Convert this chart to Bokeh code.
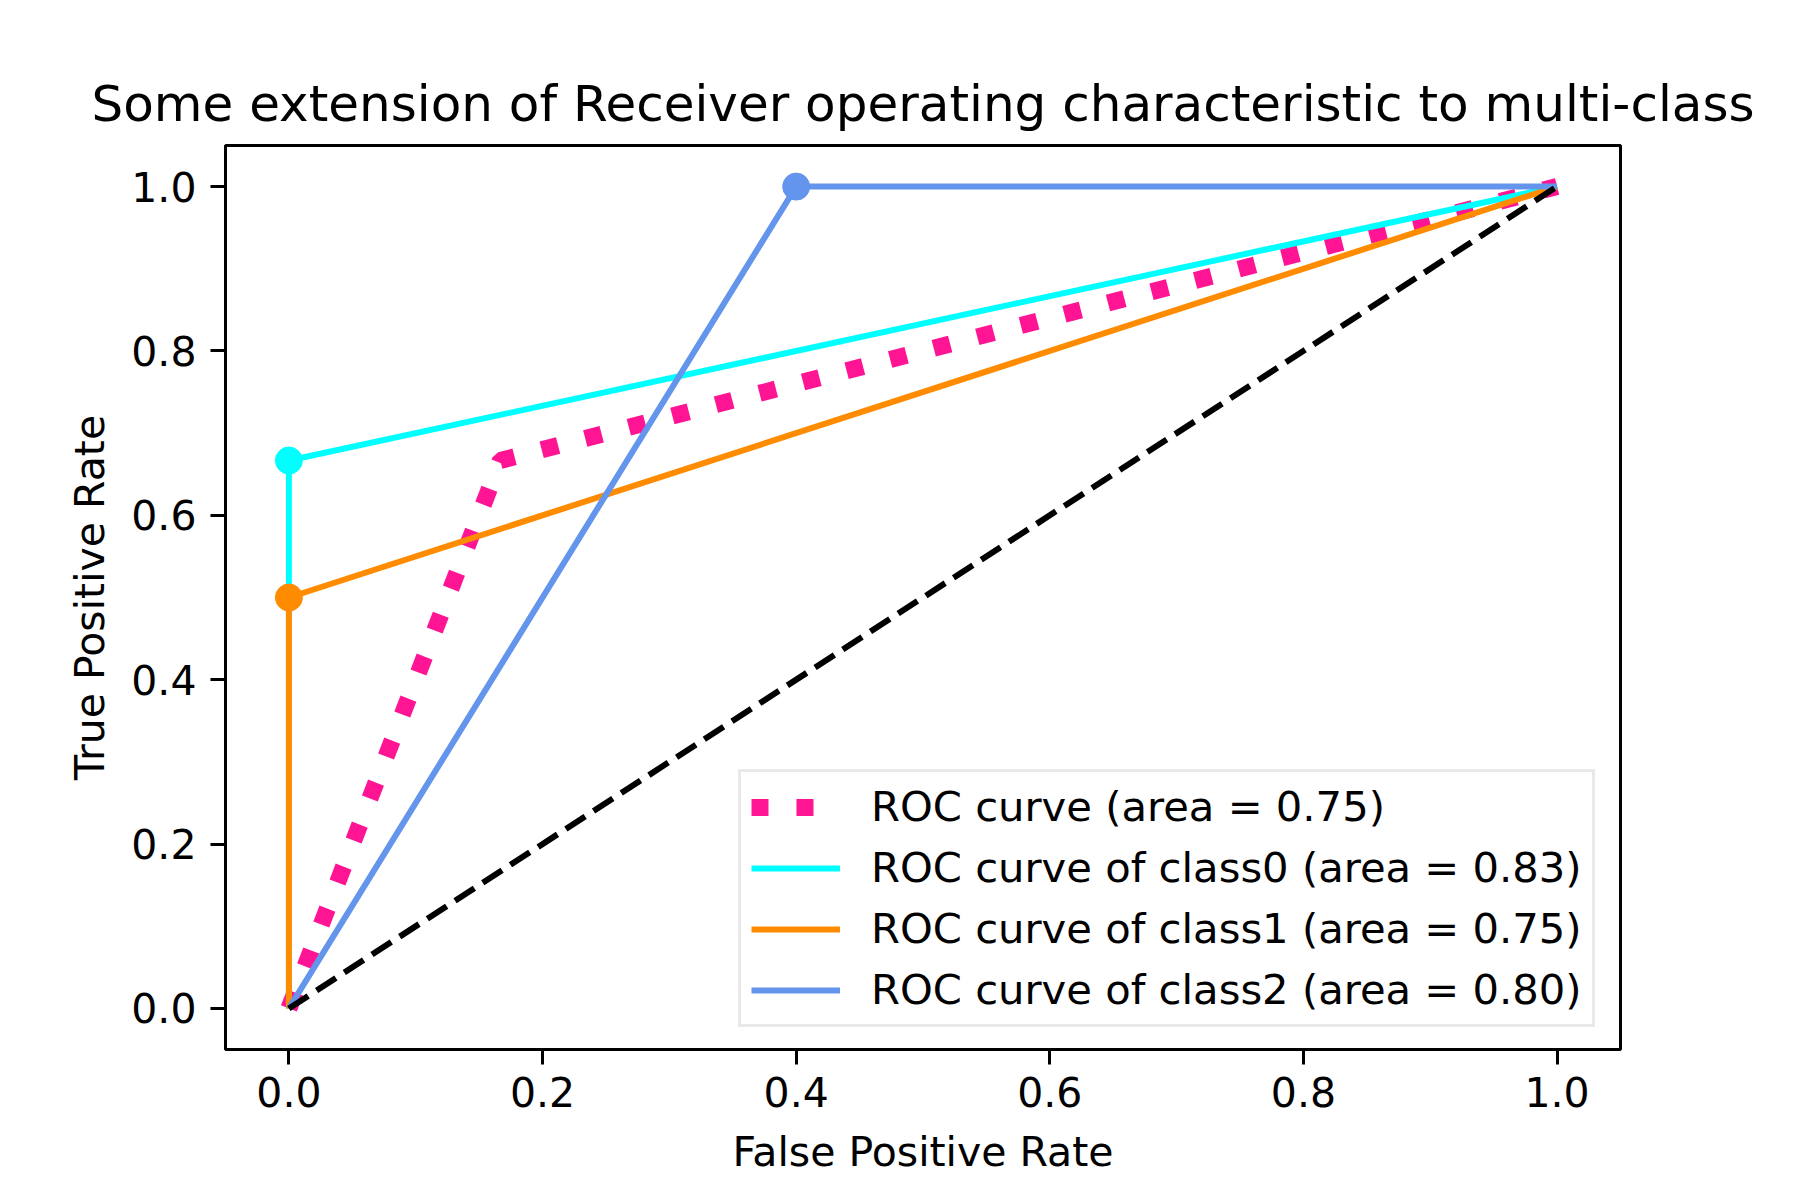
from bokeh.plotting import figure
from bokeh.models import Range1d, FixedTicker, Legend, LegendItem, Label, CustomJSTickFormatter
from bokeh.embed import file_html
from bokeh.resources import INLINE

# ---- data ----
micro_fpr = [0.0, 1/6, 1.0]
micro_tpr = [0.0, 2/3, 1.0]
c0_fpr = [0.0, 0.0, 1.0]
c0_tpr = [0.0, 2/3, 1.0]
c1_fpr = [0.0, 0.0, 1.0]
c1_tpr = [0.0, 0.5, 1.0]
c2_fpr = [0.0, 0.4, 1.0]
c2_tpr = [0.0, 1.0, 1.0]
diag = [0.0, 1.0]
ticks = [0.0, 0.2, 0.4, 0.6, 0.8, 1.0]
labels = ["ROC curve (area = 0.75)",
          "ROC curve of class0 (area = 0.83)",
          "ROC curve of class1 (area = 0.75)",
          "ROC curve of class2 (area = 0.80)"]
title = "Some extension of Receiver operating characteristic to multi-class"

FONT = "DejaVu Sans"

p = figure(width=1784, height=1184, output_backend="svg", toolbar_location=None,
           x_range=Range1d(-0.05, 1.05), y_range=Range1d(-0.05, 1.05),
           min_border_left=225, min_border_right=164, min_border_top=145, min_border_bottom=135)

p.title.text = title
p.title.align = "center"
p.title.text_font = FONT
p.title.text_font_size = "50px"
p.title.text_font_style = "normal"
p.title.text_color = "black"
p.title.standoff = 25

p.xgrid.visible = False
p.ygrid.visible = False
p.outline_line_color = "black"
p.outline_line_width = 3
p.outline_line_alpha = 1.0
p.background_fill_color = "white"
p.border_fill_color = "white"

for ax in (p.xaxis[0], p.yaxis[0]):
    ax.ticker = FixedTicker(ticks=ticks)
    ax.formatter = CustomJSTickFormatter(code="return tick.toFixed(1);")
    ax.major_tick_out = 15
    ax.major_tick_in = 0
    ax.minor_tick_out = 0
    ax.minor_tick_in = 0
    ax.major_tick_line_width = 3
    ax.major_tick_line_color = "black"
    ax.axis_line_width = 3
    ax.axis_line_color = "black"
    ax.major_label_text_font = FONT
    ax.major_label_text_font_size = "41px"
    ax.major_label_text_color = "black"
    ax.axis_label_text_font = FONT
    ax.axis_label_text_font_size = "41px"
    ax.axis_label_text_font_style = "normal"
    ax.axis_label_text_color = "black"

p.xaxis[0].major_label_standoff = 12
p.xaxis[0].axis_label_standoff = 18
p.yaxis[0].major_label_standoff = 14
p.yaxis[0].axis_label_standoff = 14

p.xaxis.axis_label = "False Positive Rate"
p.yaxis.axis_label = "True Positive Rate"

r_micro = p.line(micro_fpr, micro_tpr, line_color="#FF1493", line_width=17, line_dash="17 28")
r0 = p.line(c0_fpr, c0_tpr, line_color="#00FFFF", line_width=6)
p.scatter([c0_fpr[1]], [c0_tpr[1]], size=27, color="#00FFFF", marker="circle")
r1 = p.line(c1_fpr, c1_tpr, line_color="#FF8C00", line_width=6)
p.scatter([c1_fpr[1]], [c1_tpr[1]], size=27, color="#FF8C00", marker="circle")
r2 = p.line(c2_fpr, c2_tpr, line_color="#6495ED", line_width=6)
p.scatter([c2_fpr[1]], [c2_tpr[1]], size=27, color="#6495ED", marker="circle")
p.line(diag, diag, line_color="black", line_width=6, line_dash="23 10")

legend = Legend(items=[LegendItem(label=labels[0], renderers=[r_micro]),
                       LegendItem(label=labels[1], renderers=[r0]),
                       LegendItem(label=labels[2], renderers=[r1]),
                       LegendItem(label=labels[3], renderers=[r2])],
                location=(513, 22))
legend.label_text_font = FONT
legend.label_text_font_size = "41.7px"
legend.label_text_color = "black"
legend.glyph_width = 89
legend.glyph_height = 48
legend.label_height = 48
legend.label_standoff = 31
legend.spacing = 12
legend.padding = 10
legend.margin = 0
legend.border_line_color = "#d4d4d4"
legend.border_line_width = 3
legend.background_fill_color = "white"
legend.background_fill_alpha = 0.8
p.add_layout(legend, "center")

wm = Label(x=1335, y=-129, x_units="screen", y_units="screen",
           text="https://blog.csdn.net/LuohenYJ", text_font=FONT,
           text_font_size="13px", text_color="#d8d8d8")
p.add_layout(wm)

open("out.html", "w").write(file_html(p, INLINE))
